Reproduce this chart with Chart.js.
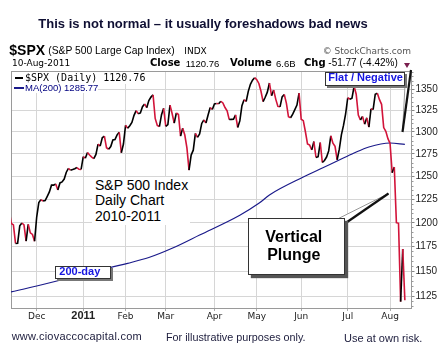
<!DOCTYPE html>
<html><head><meta charset="utf-8">
<script src="https://cdn.jsdelivr.net/npm/chart.js@4.4.1/dist/chart.umd.min.js"></script>
<style>
html,body{margin:0;padding:0;background:#fff;width:441px;height:358px;overflow:hidden;}
#wrap{position:relative;width:441px;height:358px;}
canvas{position:absolute;left:0;top:0;}
.t{position:absolute;white-space:nowrap;line-height:1;font-family:"Liberation Sans",Arial,sans-serif;color:#000;}
.dv{font-family:"DejaVu Sans",Verdana,sans-serif;}
.box{position:absolute;background:#fff;border:1px solid #333;box-shadow:2px 2px 0 #777;box-sizing:border-box;}
.blue{color:#1515e0;font-weight:bold;font-size:11px;}
</style></head><body>
<div id="wrap">
<canvas id="c" width="441" height="358"></canvas>

<div class="t" style="left:38.3px;top:17.3px;font-size:13px;font-weight:bold;color:#0f0f33;">This is not normal – it usually foreshadows bad news</div>

<div class="t" style="left:9.3px;top:43.2px;font-size:14px;font-weight:bold;">$SPX</div>
<div class="t" style="left:48.3px;top:46.3px;font-size:10.3px;">(S&amp;P 500 Large Cap Index)</div>
<div class="t dv" style="left:184.3px;top:47.4px;font-size:9px;">INDX</div>
<div class="t dv" style="left:322.7px;top:47.4px;font-size:9px;color:#555;">© StockCharts.com</div>

<div class="t dv" style="left:12px;top:59.1px;font-size:9px;">10-Aug-2011</div>
<div class="t dv" style="left:150px;top:58.2px;font-size:10px;font-weight:bold;">Close</div>
<div class="t" style="left:185.7px;top:58.7px;font-size:9.5px;">1120.76</div>
<div class="t dv" style="left:230px;top:58.2px;font-size:10px;font-weight:bold;">Volume</div>
<div class="t" style="left:276px;top:58.7px;font-size:9.5px;">6.6B</div>
<div class="t dv" style="left:304px;top:58.2px;font-size:10px;font-weight:bold;">Chg</div>
<div class="t" style="left:328.3px;top:58.2px;font-size:10px;">-51.77 (-4.42%)</div>
<div style="position:absolute;left:404px;top:62.5px;width:0;height:0;border-left:3.5px solid transparent;border-right:3.5px solid transparent;border-top:5px solid #7a1f4f;"></div>

<!-- legend -->
<div style="position:absolute;left:12px;top:72px;width:134px;height:12px;background:#fff;"></div>
<div style="position:absolute;left:12px;top:84px;width:86px;height:9px;background:#fff;"></div>
<div style="position:absolute;left:15px;top:76.5px;width:8px;height:2px;background:#000;"></div>
<div class="t" style="left:25px;top:72.5px;font-size:10px;font-family:'DejaVu Sans Mono',monospace;">$SPX (Daily) 1120.76</div>
<div style="position:absolute;left:14px;top:86.7px;width:10px;height:2px;background:#1a1a8a;"></div>
<div class="t" style="left:25px;top:83px;font-size:9.5px;color:#000080;">MA(200) 1285.77</div>

<!-- annotations -->
<div style="position:absolute;left:92px;top:177px;width:98px;height:48px;background:#fff;"></div>
<div class="t" style="left:95px;top:177.9px;font-size:14px;line-height:15.5px;color:#000;">S&amp;P 500 Index<br>Daily Chart<br>2010-2011</div>

<div class="box" style="left:248.3px;top:218.3px;width:96.7px;height:56.7px;box-shadow:3px 3px 1px #555;"></div>
<div class="t" style="left:248.3px;top:228.15px;width:91px;text-align:center;font-size:16px;line-height:18px;font-weight:bold;color:#000;">Vertical<br>Plunge</div>

<div class="box" style="left:55px;top:265.5px;width:56px;height:13.5px;"></div>
<div class="t blue" style="left:59.3px;top:266.2px;">200-day</div>

<div class="box" style="left:325px;top:72px;width:80px;height:13.5px;"></div>
<div class="t blue" style="left:328.3px;top:72.2px;">Flat / Negative</div>

<div class="t" style="left:11.7px;top:331.4px;font-size:11px;letter-spacing:0.24px;color:#1c1c3c;">www.ciovaccocapital.com</div>
<div class="t" style="left:166px;top:331.6px;font-size:10.8px;color:#1c1c3c;">For illustrative purposes only.</div>
<div class="t" style="left:344px;top:332.7px;font-size:11px;color:#1c1c3c;">Use at own risk.</div>
</div>

<script>
// ---- data ----
const months = ['2010-11','2010-12','2011-01','2011-02','2011-03','2011-04','2011-05','2011-06','2011-07','2011-08'];
const tradingDays = [
  [11,12,15,16,17,18,19,22,23,24,26,29,30],
  [1,2,3,6,7,8,9,10,13,14,15,16,17,20,21,22,23,27,28,29,30,31],
  [3,4,5,6,7,10,11,12,13,14,18,19,20,21,24,25,26,27,28,31],
  [1,2,3,4,7,8,9,10,11,14,15,16,17,18,22,23,24,25,28],
  [1,2,3,4,7,8,9,10,11,14,15,16,17,18,21,22,23,24,25,28,29,30,31],
  [1,4,5,6,7,8,11,12,13,14,15,18,19,20,21,25,26,27,28,29],
  [2,3,4,5,6,9,10,11,12,13,16,17,18,19,20,23,24,25,26,27,31],
  [1,2,3,6,7,8,9,10,13,14,15,16,17,20,21,22,23,24,27,28,29,30],
  [1,5,6,7,8,11,12,13,14,15,18,19,20,21,22,25,26,27,28,29],
  [1,2,3,4,5,8,9,10]
];
const spxClose = [
  [1213.54,1199.21,1197.75,1178.34,1178.59,1196.69,1199.73,1197.84,1180.73,1198.35,1189.40,1187.76,1180.55],
  [1206.07,1221.53,1224.71,1223.12,1223.75,1228.28,1233.00,1240.40,1240.46,1241.59,1235.23,1242.87,1243.91,1247.08,1254.60,1258.84,1256.77,1257.54,1258.51,1259.78,1257.88,1257.64],
  [1271.87,1270.20,1276.56,1273.85,1271.50,1269.75,1274.48,1285.96,1283.76,1293.24,1295.02,1281.92,1280.26,1283.35,1290.84,1291.18,1296.63,1299.54,1276.34,1286.12],
  [1307.59,1304.03,1307.10,1310.87,1319.05,1324.57,1320.88,1321.87,1329.15,1332.32,1328.01,1336.32,1340.43,1343.01,1315.44,1307.40,1306.10,1319.88,1327.22],
  [1306.33,1308.44,1330.97,1321.15,1310.13,1321.82,1320.02,1295.11,1304.28,1296.39,1281.87,1256.88,1273.72,1279.21,1298.38,1293.77,1297.54,1309.66,1313.80,1310.19,1319.44,1328.26,1325.83],
  [1332.41,1332.87,1332.63,1335.54,1333.51,1328.17,1324.46,1314.16,1314.41,1314.52,1319.68,1305.14,1312.62,1330.36,1337.38,1335.25,1347.24,1355.66,1360.48,1363.61],
  [1361.22,1356.62,1347.32,1335.10,1340.20,1346.29,1357.16,1342.08,1348.65,1337.77,1329.47,1328.98,1340.68,1343.60,1333.27,1317.37,1316.28,1320.47,1325.69,1331.10,1345.20],
  [1314.55,1312.94,1300.16,1286.17,1284.94,1279.56,1289.00,1270.98,1271.83,1287.87,1265.42,1267.64,1271.50,1278.36,1295.52,1287.14,1283.50,1268.45,1280.10,1296.67,1307.41,1320.64],
  [1339.67,1337.88,1339.22,1353.22,1343.80,1319.49,1313.64,1317.72,1308.87,1316.14,1305.44,1326.73,1325.84,1343.80,1345.02,1337.43,1331.94,1304.89,1300.67,1292.28],
  [1286.94,1254.05,1260.34,1200.07,1199.38,1119.46,1172.53,1120.76]
];
const maDates = ['2010-11-11','2010-12-01','2011-01-21','2011-02-02','2011-02-16','2011-03-04','2011-03-23','2011-04-19','2011-05-03','2011-05-10','2011-06-02','2011-06-15','2011-06-24','2011-07-07','2011-07-18','2011-08-01','2011-08-10'];
const maValues = [1128.7,1135.0,1153.8,1157.9,1163.8,1173.3,1187.1,1208.0,1220.7,1229.7,1249.3,1259.3,1267.0,1276.0,1282.8,1287.3,1285.77];
const xTickLabels = ['Dec','2011','Feb','Mar','Apr','May','Jun','Jul','Aug'];
const yTicks = [1125,1150,1175,1200,1225,1250,1275,1300,1325,1350];

// ---- build ----
const pad2 = n => (n < 10 ? '0' : '') + n;
const dates = [], closes = [], monthStarts = [];
months.forEach((m, i) => {
  if (i > 0) monthStarts.push(dates.length);
  tradingDays[i].forEach((d, j) => { dates.push(m + '-' + pad2(d)); closes.push(spxClose[i][j]); });
});
const labelAt = {};
monthStarts.forEach((v, i) => labelAt[v] = xTickLabels[i]);
const priceData = closes.map((v, i) => ({x: i, y: v}));
const maData = maDates.map((d, k) => ({x: dates.indexOf(d), y: maValues[k]}));

const RED = '#d2143a', BLACK = '#000000';

const extras = {
  id: 'extras',
  beforeDatasetsDraw(chart) {
    const c = chart.ctx, a = chart.chartArea, y = chart.scales.y;
    c.save();
    c.strokeStyle = '#9a9a9a'; c.lineWidth = 1;
    c.strokeRect(Math.round(a.left) + 0.5, Math.round(a.top) + 0.5, Math.round(a.right) - Math.round(a.left), Math.round(a.bottom) - Math.round(a.top));
    c.strokeStyle = '#999';
    for (let v = 1115; v <= 1370; v += 5) {
      if (v % 25 === 0) continue;
      const py = Math.round(y.getPixelForValue(v)) + 0.5;
      c.beginPath(); c.moveTo(Math.round(a.right), py); c.lineTo(Math.round(a.right) + 2.5, py); c.stroke();
    }
    c.restore();
  },
  afterDraw(chart) {
    const c = chart.ctx;
    c.save();
    const wedge = (A, B, C) => {
      c.beginPath(); c.moveTo(A[0], A[1]); c.lineTo(C[0], C[1]); c.lineTo(B[0], B[1]); c.closePath();
      c.fillStyle = '#fff'; c.fill();
      c.strokeStyle = '#999'; c.lineWidth = 1;
      c.beginPath(); c.moveTo(A[0], A[1]); c.lineTo(C[0], C[1]); c.stroke();
      c.strokeStyle = '#111'; c.lineWidth = 2.2;
      c.beginPath(); c.moveTo(B[0], B[1]); c.lineTo(C[0], C[1]); c.stroke();
    };
    wedge([338.5, 218.5], [345, 223.5], [388.5, 193.5]);
    wedge([405, 85], [411, 70], [402.5, 132]);
    c.restore();
  }
};

new Chart(document.getElementById('c'), {
  type: 'line',
  data: {
    datasets: [
      {
        label: '$SPX (Daily)', data: priceData, borderColor: BLACK, borderWidth: 1.6,
        pointRadius: 0, tension: 0,
        segment: { borderColor: ctx => (ctx.p1.parsed.y < ctx.p0.parsed.y ? RED : BLACK) }
      },
      {
        label: 'MA(200)', data: maData, borderColor: '#1a1a8a', borderWidth: 1.2,
        pointRadius: 0, cubicInterpolationMode: 'monotone'
      }
    ]
  },
  options: {
    responsive: false, animation: false, devicePixelRatio: 1,
    layout: { padding: { left: 11, top: 71, right: 0, bottom: 0 } },
    plugins: { legend: { display: false }, tooltip: { enabled: false } },
    scales: {
      x: {
        type: 'linear', position: 'bottom', min: 0.86, max: 189.9,
        afterBuildTicks: s => { s.ticks = monthStarts.map(v => ({value: v})); },
        afterFit: s => { s.height = 50; },
        border: { display: false },
        grid: { color: '#d6d6d6', lineWidth: 1, tickLength: 3, tickColor: '#aaa' },
        ticks: {
          autoSkip: false, maxRotation: 0, padding: 0, color: '#222',
          callback: v => labelAt[v] || '',
          font: ctx => (ctx.index === 1
            ? {family: 'Liberation Sans, Arial', size: 11, weight: 'bold', lineHeight: 0.85}
            : {family: 'DejaVu Sans, Verdana', size: 9, lineHeight: 1.2})
        }
      },
      y: {
        type: 'logarithmic', position: 'right', min: 1113.2, max: 1371.6,
        afterBuildTicks: s => { s.ticks = yTicks.map(v => ({value: v})); },
        afterFit: s => { s.width = 30; },
        border: { display: false },
        grid: { color: '#d6d6d6', lineWidth: 1, tickLength: 3.5, tickColor: '#888' },
        ticks: {
          padding: 1, color: '#222',
          callback: v => String(v),
          font: {family: 'Liberation Sans, Arial', size: 10}
        }
      }
    }
  },
  plugins: [extras]
});
</script>
</body></html>
